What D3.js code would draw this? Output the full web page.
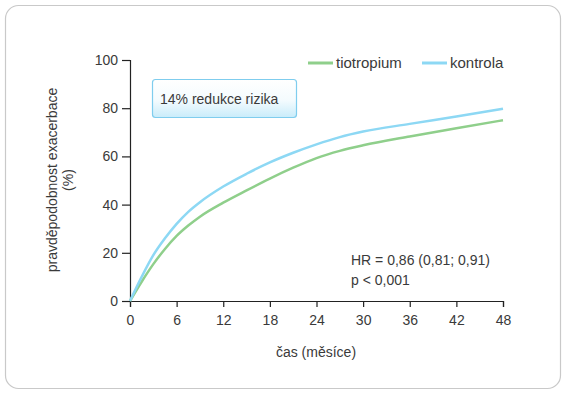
<!DOCTYPE html>
<html>
<head>
<meta charset="utf-8">
<script src="https://cdn.jsdelivr.net/npm/d3@7"></script>
<style>
  body { margin: 0; background: #fff; }
  text { font-family: "Liberation Sans", Arial, sans-serif; fill: #3a3a3a; }
</style>
</head>
<body>
<script>
// Data (months, cumulative probability %)
var months = [0, 1.5, 3, 4.5, 6, 7.5, 9, 12, 15, 18, 21, 24, 27, 30, 36, 42, 48];
var kontrola = [0, 10, 19, 26, 32, 37, 41, 47.5, 52.8, 57.5, 61.5, 65, 68, 70.3, 73.5, 76.6, 79.8];
var tiotropium = [0, 8, 15.3, 21.6, 27, 31.3, 35, 40.8, 45.9, 50.8, 55.3, 59.3, 62.3, 64.6, 68.3, 71.7, 75];
var xTicks = [0, 6, 12, 18, 24, 30, 36, 42, 48];
var yTicks = [0, 20, 40, 60, 80, 100];

var width = 568, height = 395;
var margin = {top: 60, right: 65, bottom: 94, left: 130};
var w = width - margin.left - margin.right,
    h = height - margin.top - margin.bottom;

var svg = d3.select("body").append("svg")
    .attr("width", width)
    .attr("height", height);

// outer frame
svg.append("rect")
    .attr("x", 5.5).attr("y", 5.5)
    .attr("width", 555).attr("height", 383)
    .attr("rx", 13)
    .attr("fill", "#fff")
    .attr("stroke", "#c9c9c9")
    .attr("stroke-width", 1.2);

var g = svg.append("g")
    .attr("transform", "translate(" + margin.left + "," + margin.top + ")");

var x = d3.scaleLinear().domain([0, 48]).range([0, w]);
var y = d3.scaleLinear().domain([0, 100]).range([h, 0]);

// axes
var xAxis = g.append("g")
    .attr("transform", "translate(0," + h + ")")
    .call(d3.axisBottom(x).tickValues(xTicks).tickSize(6).tickPadding(8));
var yAxis = g.append("g")
    .call(d3.axisLeft(y).tickValues(yTicks).tickSize(8).tickPadding(4));

[xAxis, yAxis].forEach(function(a) {
    a.select(".domain").attr("stroke", "#222").attr("stroke-width", 1.2);
    a.selectAll(".tick line").attr("stroke", "#222").attr("stroke-width", 1.2);
    a.selectAll(".tick text")
        .style("font-family", "Liberation Sans, Arial, sans-serif")
        .style("font-size", "14px")
        .attr("fill", "#3a3a3a");
});

// lines
var line = d3.line()
    .x(function(d, i) { return x(months[i]); })
    .y(function(d) { return y(d); })
    .curve(d3.curveMonotoneX);

g.append("path")
    .datum(tiotropium)
    .attr("fill", "none")
    .attr("stroke", "#8fcf8b")
    .attr("stroke-width", 2.5)
    .attr("d", line);

g.append("path")
    .datum(kontrola)
    .attr("fill", "none")
    .attr("stroke", "#8dd8f4")
    .attr("stroke-width", 2.5)
    .attr("d", line);

// legend
var legend = [
    {name: "tiotropium", color: "#8fcf8b", x: 308},
    {name: "kontrola", color: "#8dd8f4", x: 422}
];
legend.forEach(function(l) {
    svg.append("line")
        .attr("x1", l.x).attr("x2", l.x + 25)
        .attr("y1", 63).attr("y2", 63)
        .attr("stroke", l.color).attr("stroke-width", 3);
    svg.append("text")
        .attr("x", l.x + 28).attr("y", 68)
        .style("font-size", "15px")
        .text(l.name);
});

// annotation box
var defs = svg.append("defs");
var grad = defs.append("linearGradient")
    .attr("id", "boxGrad")
    .attr("x1", 0).attr("y1", 0).attr("x2", 0).attr("y2", 1);
grad.append("stop").attr("offset", "0%").attr("stop-color", "#ffffff");
grad.append("stop").attr("offset", "55%").attr("stop-color", "#f4fbfe");
grad.append("stop").attr("offset", "100%").attr("stop-color", "#c9ecfa");

svg.append("rect")
    .attr("x", 152.5).attr("y", 79.5)
    .attr("width", 144).attr("height", 38)
    .attr("rx", 3)
    .attr("fill", "url(#boxGrad)")
    .attr("stroke", "#7fcdee")
    .attr("stroke-width", 1.2);
svg.append("text")
    .attr("x", 160).attr("y", 104)
    .style("font-size", "14px")
    .text("14% redukce rizika");

// stats text
svg.append("text")
    .attr("x", 351).attr("y", 265)
    .style("font-size", "14px")
    .text("HR = 0,86 (0,81; 0,91)");
svg.append("text")
    .attr("x", 351).attr("y", 285)
    .style("font-size", "14px")
    .text("p < 0,001");

// axis titles
svg.append("text")
    .attr("transform", "translate(316,357)")
    .style("text-anchor", "middle")
    .style("font-size", "14px")
    .text("čas (měsíce)");

svg.append("text")
    .attr("transform", "translate(57,180) rotate(-90)")
    .style("text-anchor", "middle")
    .style("font-size", "14px")
    .text("pravděpodobnost exacerbace");
svg.append("text")
    .attr("transform", "translate(73,180) rotate(-90)")
    .style("text-anchor", "middle")
    .style("font-size", "14px")
    .text("(%)");
</script>
</body>
</html>
